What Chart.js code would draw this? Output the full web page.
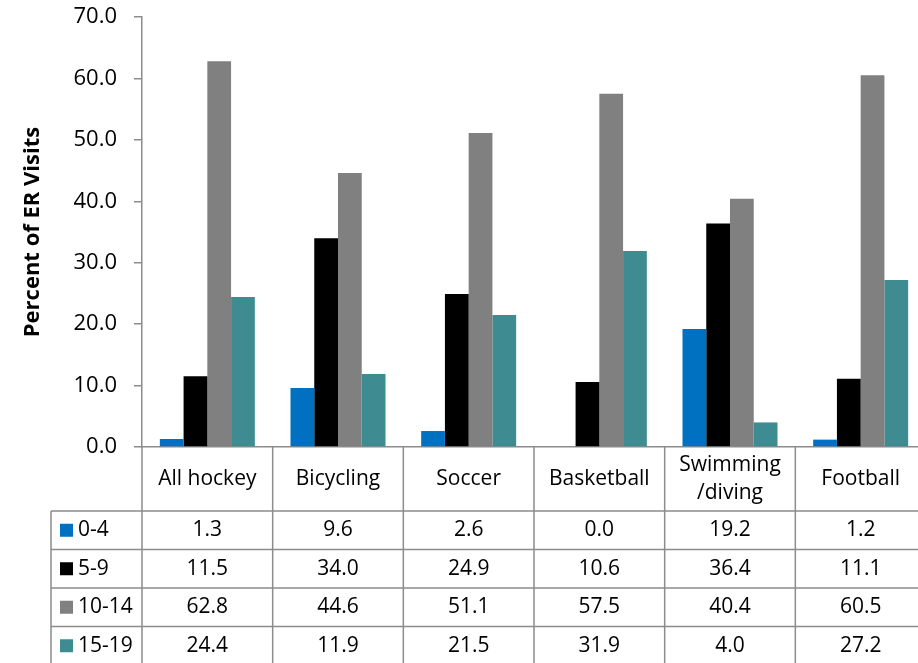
<!DOCTYPE html>
<html lang="en">
<head>
<meta charset="UTF-8">
<title>ER Visits by Sport and Age</title>
<script src="https://cdn.jsdelivr.net/npm/chart.js"></script>
<style>
  html, body { margin: 0; padding: 0; background: #fff; overflow: hidden; }
  #chart { display: block; }
</style>
</head>
<body>
<canvas id="chart" width="928" height="663"></canvas>
<script>
// data
const categories = ["All hockey", "Bicycling", "Soccer", "Basketball", ["Swimming", "/diving"], "Football"];
const ageGroups = ["0-4", "5-9", "10-14", "15-19"];
const age0to4 = [1.3, 9.6, 2.6, 0.0, 19.2, 1.2];
const age5to9 = [11.5, 34.0, 24.9, 10.6, 36.4, 11.1];
const age10to14 = [62.8, 44.6, 51.1, 57.5, 40.4, 60.5];
const age15to19 = [24.4, 11.9, 21.5, 31.9, 4.0, 27.2];
const colors = ["#0070C0", "#000000", "#808080", "#3E8C92"];

const FONT = '"Open Sans", sans-serif';
const LINE = "#8c8c8c";

// draws the data table under the plot (header row + one row per age group)
const tablePlugin = {
    id: "dataTable",
    afterDraw(chart) {
        const ctx = chart.ctx;
        const area = chart.chartArea;
        const xs = chart.scales.x;
        const n = categories.length;
        const colW = area.width / n;
        const top = area.bottom;
        const headerH = 64;
        const rowH = 38.5;
        const legendLeft = 51;

        ctx.save();
        ctx.strokeStyle = LINE;
        ctx.lineWidth = 1.5;
        ctx.beginPath();
        for (let i = 0; i <= n; i++) {
            const x = area.left + i * colW;
            ctx.moveTo(x, top);
            ctx.lineTo(x, chart.height);
        }
        for (let r = 0; r <= ageGroups.length; r++) {
            const y = top + headerH + r * rowH;
            ctx.moveTo(legendLeft, y);
            ctx.lineTo(chart.width, y);
        }
        ctx.moveTo(legendLeft, top + headerH);
        ctx.lineTo(legendLeft, chart.height);
        ctx.stroke();

        ctx.font = "21px " + FONT;
        ctx.fillStyle = "#000";
        ctx.textAlign = "center";
        ctx.textBaseline = "middle";
        categories.forEach((c, i) => {
            const cx = xs.getPixelForValue(i);
            const lines = Array.isArray(c) ? c : [c];
            lines.forEach((t, k) => {
                ctx.fillText(t, cx, top + headerH / 2 + (k - (lines.length - 1) / 2) * 28);
            });
        });

        chart.data.datasets.forEach((ds, r) => {
            const cy = top + headerH + r * rowH + rowH / 2;
            ctx.fillStyle = ds.backgroundColor;
            ctx.fillRect(60, cy - 6.5, 13, 13);
            ctx.fillStyle = "#000";
            ctx.textAlign = "left";
            ctx.fillText(ds.label, 78, cy);
            ctx.textAlign = "center";
            ds.data.forEach((v, i) => ctx.fillText(v.toFixed(1), xs.getPixelForValue(i), cy));
        });
        ctx.restore();
    }
};

const seriesValues = [age0to4, age5to9, age10to14, age15to19];

new Chart(document.getElementById("chart"), {
    type: "bar",
    data: {
        labels: categories,
        datasets: ageGroups.map((g, i) => ({
            label: g,
            data: seriesValues[i],
            backgroundColor: colors[i],
            borderWidth: 0,
            categoryPercentage: 0.727,
            barPercentage: 1.0
        }))
    },
    options: {
        responsive: false,
        animation: false,
        devicePixelRatio: 1,
        layout: { padding: { top: 17, right: 2, bottom: 216, left: 0 } },
        plugins: {
            legend: { display: false },
            tooltip: { enabled: false }
        },
        scales: {
            x: {
                grid: { display: false },
                ticks: { display: false },
                border: { color: LINE, width: 1.5 },
                afterFit(scale) { scale.height = 0; }
            },
            y: {
                min: 0,
                max: 70,
                afterFit(scale) {
                    scale.width = 142;
                    scale.paddingTop = 0;
                    scale.paddingBottom = 0;
                },
                ticks: {
                    stepSize: 10,
                    padding: 17,
                    color: "#000",
                    font: { family: FONT, size: 22 },
                    callback: v => v.toFixed(1)
                },
                grid: {
                    drawOnChartArea: false,
                    drawTicks: true,
                    tickLength: 8,
                    color: LINE,
                    lineWidth: 1.5
                },
                border: { color: LINE, width: 1.5 },
                title: {
                    display: true,
                    text: "Percent of ER Visits",
                    color: "#000",
                    font: { family: FONT, size: 22, weight: "bold" },
                    padding: { top: 20, bottom: 0 }
                }
            }
        }
    },
    plugins: [tablePlugin]
});
</script>
</body>
</html>
